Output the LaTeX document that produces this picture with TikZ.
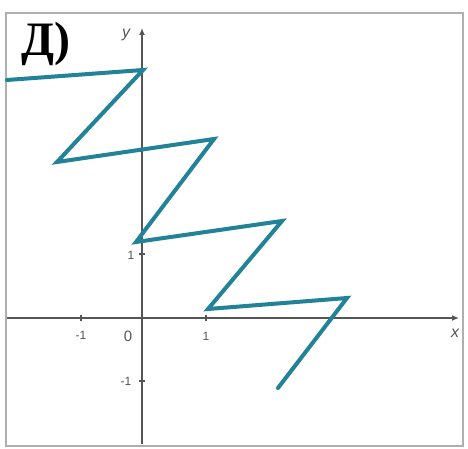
\documentclass[tikz,border=0pt]{standalone}
\usepackage{fontspec}
\setmainfont{Liberation Serif}
\newfontfamily\lab{Liberation Sans}
\usetikzlibrary{arrows.meta}
\definecolor{teal1}{RGB}{34,130,152}
\definecolor{axisgray}{RGB}{85,85,85}
\definecolor{framegray}{RGB}{175,175,175}
\tikzset{
  axis/.style={draw=axisgray, line width=1.8pt, -{Latex[length=7pt,width=6pt]}},
  graphline/.style={draw=teal1, line width=4pt, line join=miter, line cap=round},
  ticklab/.style={font=\lab\fontsize{12}{12}\selectfont, text=axisgray, inner sep=0pt},
  tickmark/.style={draw=axisgray, line width=1.2pt},
}
\begin{document}
\begin{tikzpicture}[x=1pt,y=-1pt]
\useasboundingbox (0,0) rectangle (468,449);
\fill[white] (0,0) rectangle (468,449);
\draw[framegray, line width=2.5pt] (6,13) rectangle (463,446);
% axes
\coordinate (xs) at (7,318);
\coordinate (xe) at (459,318);
\coordinate (ys) at (142,444);
\coordinate (ye) at (142,28);
\draw[axis] (xs) -- (xe);
\draw[axis] (ys) -- (ye);
% ticks
\draw[tickmark] (81,315) -- (81,321);
\draw[tickmark] (206,315) -- (206,321);
\draw[tickmark] (139,254) -- (145,254);
\draw[tickmark] (139,381) -- (145,381);
% labels
\node[ticklab] (lm1x) at (81,335) {-1};
\node[ticklab, font=\lab\fontsize{15}{15}\selectfont] (l0) at (128,336) {0};
\node[ticklab] (l1x) at (206,336) {1};
\node[ticklab] (l1y) at (131,255) {1};
\node[ticklab] (lm1y) at (126,381) {-1};
\node[font=\lab\itshape\fontsize{16}{16}\selectfont, text=axisgray, inner sep=0pt] (ylab) at (126,35) {y};
\node[font=\lab\itshape\fontsize{16}{16}\selectfont, text=axisgray, inner sep=0pt] (xlab) at (455,333) {x};
\node[font=\bfseries\fontsize{48}{48}\selectfont, inner sep=0pt] (title) at (46,44) {Д)};
% graph
\coordinate (p0) at (7,80);
\coordinate (p1) at (143,70);
\coordinate (p2) at (57,162);
\coordinate (p3) at (214,139);
\coordinate (p4) at (136,242);
\coordinate (p5) at (282,221);
\coordinate (p6) at (208,309);
\coordinate (p7) at (347,298);
\coordinate (p8) at (278,388);
\draw[graphline] (p0) -- (p1) -- (p2) -- (p3) -- (p4) -- (p5) -- (p6) -- (p7) -- (p8);
\end{tikzpicture}
\end{document}
